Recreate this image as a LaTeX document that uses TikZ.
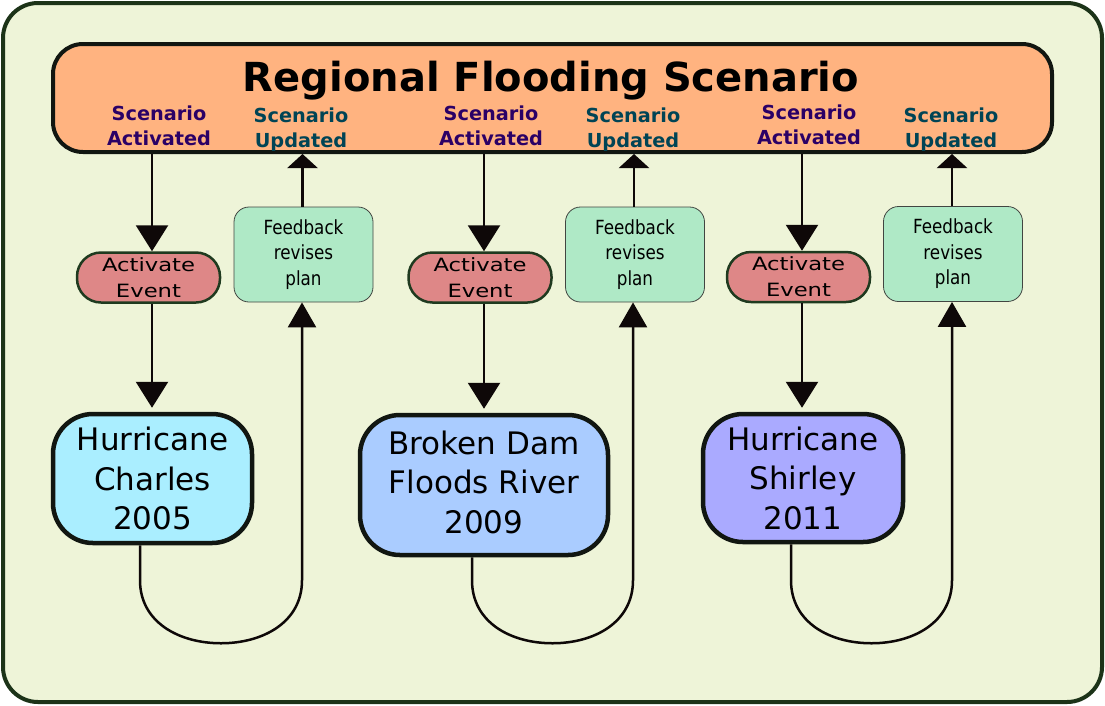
\documentclass[tikz,border=0pt]{standalone}
\usepackage{fontspec}
\setmainfont{DejaVu Sans}
\newfontfamily\condfont{DejaVu Sans}[FakeStretch=0.86]
\newfontfamily\widefont{DejaVu Sans}[FakeStretch=1.24]
\usetikzlibrary{arrows.meta}
\definecolor{bgc}{HTML}{EEF4D8}
\definecolor{outerc}{HTML}{1C3318}
\definecolor{topc}{HTML}{FFB380}
\definecolor{actlab}{HTML}{2B0066}
\definecolor{updlab}{HTML}{004455}
\definecolor{actfill}{HTML}{DE8787}
\definecolor{actdraw}{HTML}{1F3A1F}
\definecolor{fbfill}{HTML}{AFE9C6}
\definecolor{hone}{HTML}{AAEEFF}
\definecolor{htwo}{HTML}{AACCFF}
\definecolor{hthree}{HTML}{AAAAFF}
\definecolor{darkc}{HTML}{111611}
\definecolor{arrc}{HTML}{0E0808}
\tikzset{
  topbox/.style={draw=darkc, fill=topc, line width=4pt, rounded corners=30pt, minimum width=999pt, minimum height=108pt, inner sep=0pt},
  actlabel/.style={text=actlab, font=\bfseries\fontsize{19.3}{25}\selectfont, align=center, inner sep=0pt},
  updlabel/.style={text=updlab, font=\bfseries\fontsize{19.3}{25}\selectfont, align=center, inner sep=0pt},
  actbox/.style={draw=actdraw, fill=actfill, line width=2.5pt, rounded corners=24pt, minimum width=143pt, minimum height=50pt, inner sep=0pt, align=center, font=\widefont\fontsize{18.3}{26}\selectfont},
  fbbox/.style={draw=darkc!80, fill=fbfill, line width=0.8pt, rounded corners=15pt, minimum width=139pt, minimum height=95pt, inner sep=0pt, align=center, font=\condfont\fontsize{19.5}{25.5}\selectfont},
  hbox/.style={draw=darkc, line width=4.5pt, rounded corners=40pt, inner sep=0pt, align=center, font=\fontsize{31}{39.5}\selectfont},
  conn/.style={line width=2.5pt, draw=arrc},
  downtip/.style={-{Triangle[length=26pt,width=32pt]}},
  uptip/.style={-{Triangle[length=14pt,width=30pt]}},
  fbtip/.style={-{Triangle[length=25pt,width=28pt]}},
}
\begin{document}
\begin{tikzpicture}[x=1pt,y=-1pt]
\useasboundingbox (0,0) rectangle (1105,705);
\draw[draw=outerc, fill=bgc, line width=4pt, rounded corners=35pt] (3,3) rectangle (1102,702);

\node[topbox] (top) at (552.5,98) {};
\node[anchor=base, font=\bfseries\fontsize{40}{48}\selectfont] (title) at (551,91) {Regional Flooding Scenario};

\node[actlabel] (sa1) at (159,125.5) {Scenario\\Activated};
\node[updlabel] (su1) at (301,129.5) {Scenario\\Updated};
\node[actlabel] (sa2) at (491,125.5) {Scenario\\Activated};
\node[updlabel] (su2) at (633,129.5) {Scenario\\Updated};
\node[actlabel] (sa3) at (809,124.5) {Scenario\\Activated};
\node[updlabel] (su3) at (951,129.5) {Scenario\\Updated};

\node[actbox] (a1) at (148.5,277.5) {Activate\\Event};
\node[actbox] (a2) at (480,277.5) {Activate\\Event};
\node[actbox] (a3) at (798.5,277) {Activate\\Event};

\node[fbbox] (f1) at (303.5,254.5) {Feedback\\revises\\plan};
\node[fbbox] (f2) at (635,254.5) {Feedback\\revises\\plan};
\node[fbbox] (f3) at (953,254) {Feedback\\revises\\plan};

\node[hbox, fill=hone, minimum width=199pt, minimum height=129pt] (h1) at (152.5,478.5) {Hurricane\\Charles\\2005};
\node[hbox, fill=htwo, minimum width=248pt, minimum height=140pt] (h2) at (484,485) {Broken Dam\\Floods River\\2009\rule[-6pt]{0pt}{6pt}};
\node[hbox, fill=hthree, minimum width=200pt, minimum height=128pt] (h3) at (803,478) {Hurricane\\Shirley\\2011};

% down arrows from scenario to activate
\draw[conn, downtip] ([xshift=3.5pt]a1.north |- top.south) -- ([xshift=3.5pt]a1.north);
\draw[conn, downtip] ([xshift=4pt]a2.north |- top.south) -- ([xshift=4pt]a2.north);
\draw[conn, downtip] ([xshift=3.5pt]a3.north |- top.south) -- ([xshift=3.5pt]a3.north);

% activate to hurricane boxes
\draw[conn, downtip] ([xshift=3.5pt]a1.south) -- ([xshift=-0.5pt,yshift=4pt]h1.north);
\draw[conn, downtip] ([xshift=4pt]a2.south) -- ([yshift=4pt]h2.north);
\draw[conn, downtip] ([xshift=3.5pt]a3.south) -- ([xshift=-1pt,yshift=4pt]h3.north);

% feedback to scenario
\draw[conn, uptip] ([xshift=-1pt]f1.north) -- ([xshift=-1pt]f1.north |- top.south);
\draw[conn, uptip] ([xshift=-1pt]f2.north) -- ([xshift=-1pt]f2.north |- top.south);
\draw[conn, uptip] ([xshift=-1pt]f3.north) -- ([xshift=-1pt]f3.north |- top.south);

% loops from events to feedback
\draw[conn, fbtip] ([xshift=-12.5pt]h1.south) -- ++(0,35)
  .. controls +(0,42) and +(-42,0) .. ++(81,63)
  .. controls +(42,0) and +(0,42) .. ++(81,-63) -- ([xshift=-1.5pt]f1.south);
\draw[conn, fbtip] ([xshift=-12pt]h2.south) -- ++(0,23)
  .. controls +(0,42) and +(-42,0) .. ++(80.5,63)
  .. controls +(42,0) and +(0,42) .. ++(80.5,-63) -- ([xshift=-2pt]f2.south);
\draw[conn, fbtip] ([xshift=-12pt]h3.south) -- ++(0,36)
  .. controls +(0,42) and +(-42,0) .. ++(80.5,63)
  .. controls +(42,0) and +(0,42) .. ++(80.5,-63) -- ([xshift=-1pt]f3.south);
\end{tikzpicture}
\end{document}
